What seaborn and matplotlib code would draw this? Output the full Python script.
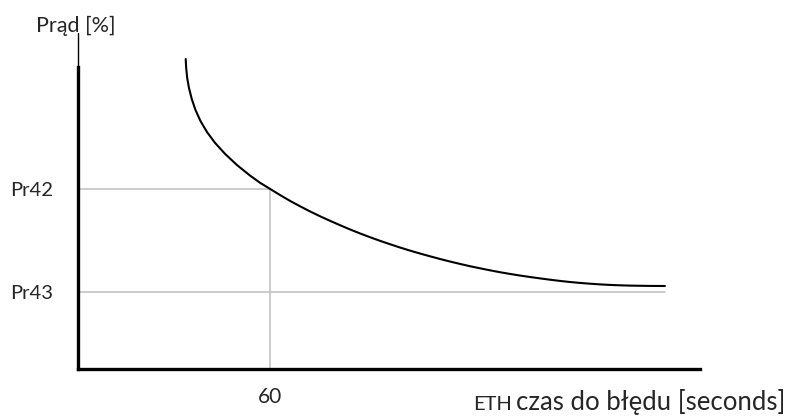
import matplotlib
matplotlib.use("Agg")
import matplotlib.pyplot as plt
import seaborn as sns
import pandas as pd

# Trip curve: time to fault [s] vs current [%]
time_s = [33.66, 33.81, 34.13, 34.69, 35.56, 36.72, 38.28, 40.31, 42.81, 45.94,
          49.69, 53.75, 56.88, 60.00, 63.13, 66.25, 69.38, 72.50, 75.63, 78.75,
          81.88, 85.00, 88.13, 91.25, 94.38, 97.50, 100.63, 103.75, 106.88, 110.00,
          113.13, 116.25, 119.38, 122.50, 125.63, 128.75, 131.88, 135.00, 138.13,
          141.25, 144.38, 147.50, 150.63, 153.75, 156.88, 160.00, 163.13, 166.25,
          169.38, 172.50, 175.63, 178.75, 183.44]
current_pct = [402.6, 390.9, 377.9, 364.9, 350.6, 336.4, 322.1, 307.8, 293.8, 279.5,
               264.9, 251.3, 241.9, 234.0, 226.0, 218.4, 211.4, 204.7, 198.4, 192.5,
               186.8, 181.3, 176.1, 171.2, 166.5, 162.1, 157.8, 153.8, 150.0, 146.4,
               142.9, 139.6, 136.5, 133.5, 130.8, 128.2, 125.7, 123.5, 121.4,
               119.5, 117.7, 116.0, 114.4, 113.0, 111.8, 110.8, 109.9, 109.2,
               108.7, 108.3, 108.1, 107.9, 107.8]

# Reference levels
pr42_level = 234.0
pr43_level = 100.0
trip_time = 60.0
y_tick_labels = ["Pr42", "Pr43"]
x_tick_labels = ["60"]

x_max = 194.4
y_max = 436.4
y_spine_top = 392.0

sns.set_style("white")
plt.rcParams["font.family"] = ["Lato", "DejaVu Sans"]

fig = plt.figure(figsize=(7.91, 4.18), dpi=100)
ax = fig.add_axes([78 / 791, 49 / 418, 622 / 791, 336 / 418])

df = pd.DataFrame({"t": time_s, "i": current_pct})

grid_color = "#bfbfbf"
ax.plot([0, trip_time], [pr42_level, pr42_level], color=grid_color, lw=1.1, zorder=1)
ax.plot([0, time_s[-1]], [pr43_level, pr43_level], color=grid_color, lw=1.1, zorder=1)
ax.plot([trip_time, trip_time], [0, pr42_level], color=grid_color, lw=1.1, zorder=1)

sns.lineplot(data=df, x="t", y="i", ax=ax, color="black", lw=1.5,
             sort=False, estimator=None, zorder=3)

ax.set_xlim(0, x_max)
ax.set_ylim(0, y_max)

for side in ["top", "right"]:
    ax.spines[side].set_visible(False)
for side in ["left", "bottom"]:
    ax.spines[side].set_color("black")
    ax.spines[side].set_linewidth(2.4)
ax.spines["left"].set_bounds(0, y_spine_top)
ax.plot([0, 0], [y_spine_top, y_max], color="black", lw=1.0, clip_on=False, zorder=4)

ax.set_yticks([pr42_level, pr43_level])
ax.set_yticklabels(y_tick_labels, fontsize=14.5)
ax.set_xticks([trip_time])
ax.set_xticklabels(x_tick_labels, fontsize=15)
ax.tick_params(axis="y", length=0, pad=18)
ax.tick_params(axis="x", length=0, pad=13)
ax.set_xlabel("")
ax.set_ylabel("")

fig.text(36 / 791, 1 - 32 / 418, "Prąd [%]", fontsize=15.5, va="baseline", ha="left")
fig.text(473 / 791, 1 - 410 / 418, "ETH", fontsize=14.5, va="baseline", ha="left")
fig.text(785 / 791, 1 - 410 / 418, "czas do błędu [seconds]", fontsize=18.5,
         va="baseline", ha="right")

fig.savefig("out.png", dpi=100)
